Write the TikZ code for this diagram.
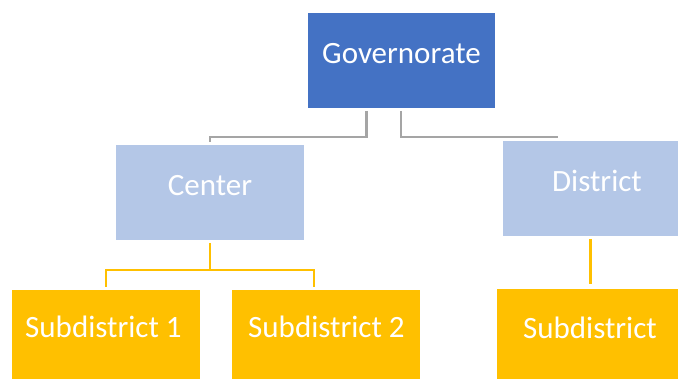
\documentclass[tikz,border=0pt]{standalone}
\usepackage{fontspec}
\setmainfont{Carlito}
\definecolor{govblue}{HTML}{4472C4}
\definecolor{lightblue}{HTML}{B4C7E7}
\definecolor{gold}{HTML}{FFC000}
\definecolor{linegray}{HTML}{A5A5A5}
\begin{document}
\begin{tikzpicture}[x=1pt,y=-1pt,
  box/.style={draw=none,inner sep=0pt,anchor=north west},
  lbl/.style={text=white,font=\fontsize{31}{36}\selectfont,anchor=base,inner sep=0pt},
  gline/.style={draw=linegray,line width=2.2pt},
  yline/.style={draw=gold,line width=2.2pt}]
\useasboundingbox (0,0) rectangle (678,379);
% boxes
\node[box,fill=govblue,minimum width=187pt,minimum height=95pt] (gov) at (308,13) {};
\node[box,fill=lightblue,minimum width=188pt,minimum height=95pt] (cen) at (116,145) {};
\node[box,fill=lightblue,minimum width=175pt,minimum height=95pt] (dis) at (503,141) {};
\node[box,fill=gold,minimum width=188pt,minimum height=89pt] (s1) at (12,290) {};
\node[box,fill=gold,minimum width=188pt,minimum height=89pt] (s2) at (232,290) {};
\node[box,fill=gold,minimum width=181pt,minimum height=90pt] (s3) at (497,289) {};
% labels
\node[lbl] (govt) at (401.5,64) {Governorate};
\node[lbl] (cent) at (210,196) {Center};
\node[lbl] (dist) at (597,192) {District};
\node[lbl] (s1t) at (103.5,338) {Subdistrict 1};
\node[lbl] (s2t) at (326.5,338) {Subdistrict 2};
\node[lbl] (s3t) at (590,339) {Subdistrict};
% gray connectors
\coordinate (g1) at (366.5,111);
\coordinate (g2) at (401,111);
\coordinate (c1) at (210,142);
\coordinate (d1) at (558,137);
\draw[gline] (g1) |- (210,137) -- (c1);
\draw[gline] (g2) |- (d1);
% yellow connectors
\coordinate (y0) at (210,243);
\coordinate (y1) at (106,287);
\coordinate (y2) at (314,287);
\draw[yline] (y0) -- (210,270);
\draw[yline] (y1) |- (210,270) -| (y2);
\coordinate (y3) at (590.5,239);
\coordinate (y4) at (590.5,284);
\draw[yline] (y3) -- (y4);
\end{tikzpicture}
\end{document}
